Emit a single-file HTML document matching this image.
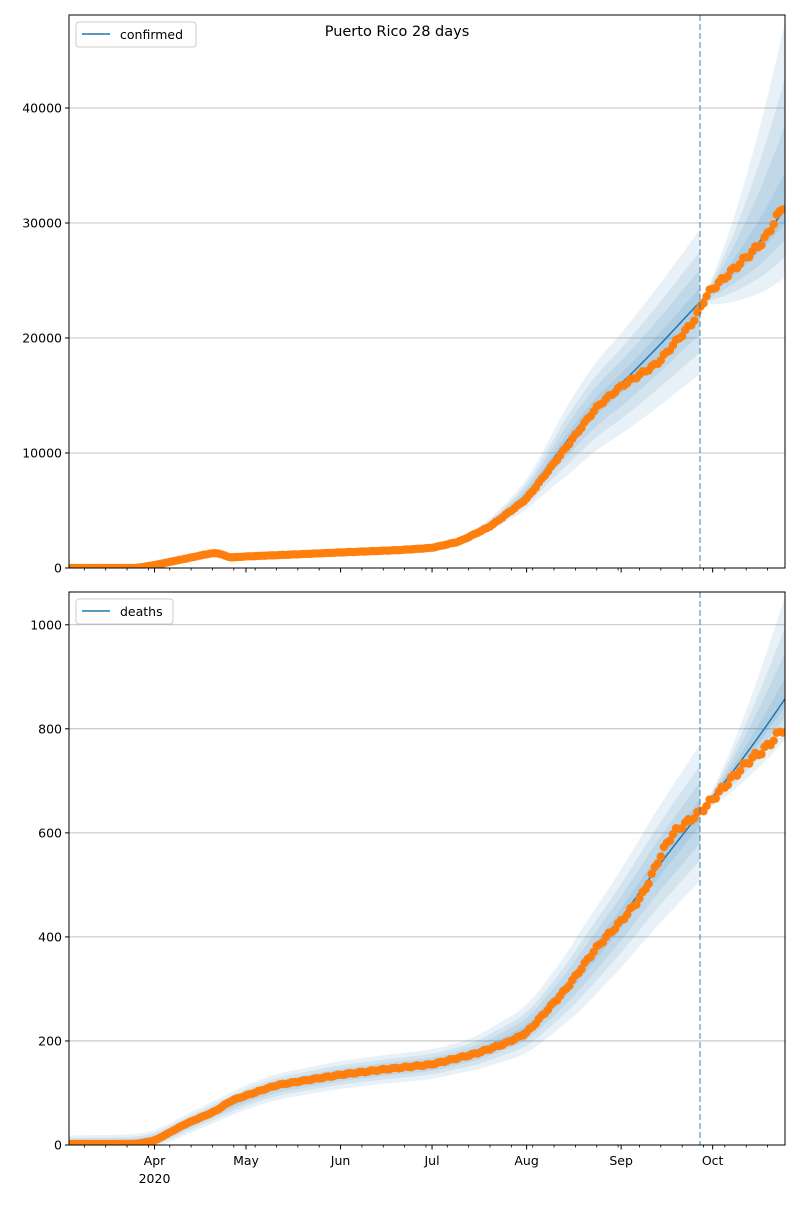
<!DOCTYPE html>
<html><head><meta charset="utf-8"><style>
body{margin:0;background:#fff;font-family:"Liberation Sans","DejaVu Sans",sans-serif}
svg text{font-family:"DejaVu Sans","Liberation Sans",sans-serif}
</style></head><body>
<svg id="s" width="800" height="1200" xmlns="http://www.w3.org/2000/svg"></svg>
<script>
const S=document.getElementById('s');let h='';
const X0=154.5,PD=3.05,L=69,R=785;
const xd=d=>X0+d*PD;
const VD=(700-X0)/PD;
function lin(k,d){if(d<=k[0][0])return k[0][1];for(let i=1;i<k.length;i++){if(d<=k[i][0]){const a=k[i-1],b=k[i];const t=(d-a[0])/(b[0]-a[0]);return a[1]+(b[1]-a[1])*t;}}return k[k.length-1][1];}
function sm(k,w){return d=>{let s=0,n=0;for(let e=-w;e<=w;e+=0.5){s+=lin(k,d+e);n++;}return s/n;};}
function panel(top,bot,ymax,ticks,data,model,spreadPre,upEnd,loEnd,label,lw){
 const yv=v=>bot-(v/ymax)*(bot-top);
 const M=sm(model,4),D=sm(data,1.5);
 h+=`<clipPath id="c${top}"><rect x="${L}" y="${top}" width="${R-L}" height="${bot-top}"/></clipPath>`;
 for(const t of ticks){const y=yv(t);h+=`<line x1="${L}" x2="${R}" y1="${y}" y2="${y}" stroke="#b0b0b0" stroke-width="0.8"/><line x1="${L-4}" x2="${L}" y1="${y}" y2="${y}" stroke="#000"/><text x="${L-7}" y="${y+4.5}" font-size="12.5" text-anchor="end">${t}</text>`;}
 const fr=[0.2,0.45,0.7,1];
 h+=`<g clip-path="url(#c${top})">`;
 for(const f of fr){
  let up=[],lo=[];
  for(let d=-28;d<=VD;d+=1){const m=M(d);const s=spreadPre(d,m)*f;up.push([xd(d),yv(m+s)]);lo.push([xd(d),yv(Math.max(0,m-s))]);}
  const d=VD,m=M(d),s=spreadPre(d,m)*f;up.push([700,yv(m+s)]);lo.push([700,yv(Math.max(0,m-s))]);
  h+=`<polygon points="${up.concat(lo.reverse()).map(p=>p.join(',')).join(' ')}" fill="#1f77b4" fill-opacity="0.1"/>`;
  up=[];lo=[];
  for(let d=VD;d<=208;d+=1){const m=M(d);const t=(d-VD)/(207-VD);up.push([xd(d),yv(m+upEnd*f*Math.pow(t,1.4))]);lo.push([xd(d),yv(m-loEnd*f*Math.pow(t,0.8))]);}
  h+=`<polygon points="${up.concat(lo.reverse()).map(p=>p.join(',')).join(' ')}" fill="#1f77b4" fill-opacity="0.1"/>`;
 }
 let pts=[];for(let d=-28;d<=208;d+=0.5)pts.push(xd(d)+','+yv(M(d)));
 h+=`<polyline points="${pts.join(' ')}" fill="none" stroke="#1f77b4" stroke-width="1.5"/>`;
 for(let d=-28;d<=206;d++){const v=D(d)*(1+0.008*Math.sin(d*1.7));h+=`<circle cx="${xd(d)}" cy="${yv(v)}" r="4.2" fill="#ff7f0e"/>`;}
 h+=`</g>`;
 h+=`<line x1="700" x2="700" y1="${top}" y2="${bot}" stroke="#1f77b4" stroke-opacity="0.6" stroke-width="1.5" stroke-dasharray="6,3"/>`;
 h+=`<rect x="${L}" y="${top}" width="${R-L}" height="${bot-top}" fill="none" stroke="#000" stroke-width="1"/>`;
 for(let d=-23;d<=207;d+=7){h+=`<line x1="${xd(d)}" x2="${xd(d)}" y1="${bot}" y2="${bot+2.5}" stroke="#000" stroke-width="0.8"/>`;}
 const mon=[[0,'Apr'],[30,'May'],[61,'Jun'],[91,'Jul'],[122,'Aug'],[153,'Sep'],[183,'Oct']];
 for(const [d,n] of mon){h+=`<line x1="${xd(d)}" x2="${xd(d)}" y1="${bot}" y2="${bot+4.5}" stroke="#000"/>`;if(label)h+=`<text x="${xd(d)}" y="${bot+20}" font-size="12.5" text-anchor="middle">${n}</text>`;}
 if(label)h+=`<text x="${xd(0)}" y="${bot+38}" font-size="12.5" text-anchor="middle">2020</text>`;
 h+=`<rect x="76" y="${top+7}" width="${lw}" height="25" rx="3" fill="#fff" fill-opacity="0.8" stroke="#ccc"/><line x1="82" x2="110" y1="${top+19}" y2="${top+19}" stroke="#1f77b4" stroke-width="1.5"/><text x="120" y="${top+24}" font-size="12.5">${label?'deaths':'confirmed'}</text>`;
}
const cData=[[-28,0],[-6,0],[0,250],[10,800],[19,1300],[22,1250],[24,900],[30,1000],[61,1350],[80,1550],[91,1750],[100,2300],[110,3600],[122,6000],[135,10500],[145,14000],[153,15800],[165,17800],[172,20000],[177,21500],[181,23800],[190,26000],[200,28500],[206,31500],[212,33500]];
const cModel=[[-28,0],[-6,0],[0,250],[10,800],[19,1200],[24,1000],[30,1000],[61,1350],[80,1550],[91,1750],[100,2300],[110,3700],[122,6300],[135,11000],[145,14200],[153,16000],[165,19200],[179,23200],[190,26000],[200,28800],[207,31300],[215,34200]];
panel(15,568,48087,[0,10000,20000,30000,40000],cData,cModel,(d,m)=>0.05*m+(d>95?0.22*m*Math.min(1,(d-95)/40):0)+40,16500,6000,false,120);
const dData=[[-28,2],[-6,2],[0,8],[10,40],[20,65],[25,85],[30,95],[40,115],[61,135],[75,145],[91,155],[105,175],[115,195],[122,215],[135,300],[145,380],[153,430],[160,480],[167,570],[170,600],[179,640],[183,665],[195,740],[200,760],[206,800],[212,830]];
const dModel=[[-28,2],[-6,4],[0,10],[10,38],[20,65],[30,92],[40,112],[61,135],[75,145],[91,155],[105,175],[122,220],[135,300],[145,375],[153,435],[165,535],[179,640],[190,720],[200,800],[207,860],[215,930]];
panel(592,1145,1063,[0,200,400,600,800,1000],dData,dModel,(d,m)=>0.08*m+16+(d>100?0.1*m*Math.min(1,(d-100)/40):0),200,80,true,97);
h+=`<text x="397" y="36" font-size="14.5" text-anchor="middle">Puerto Rico 28 days</text>`;
S.innerHTML=h;
</script>
</body></html>
